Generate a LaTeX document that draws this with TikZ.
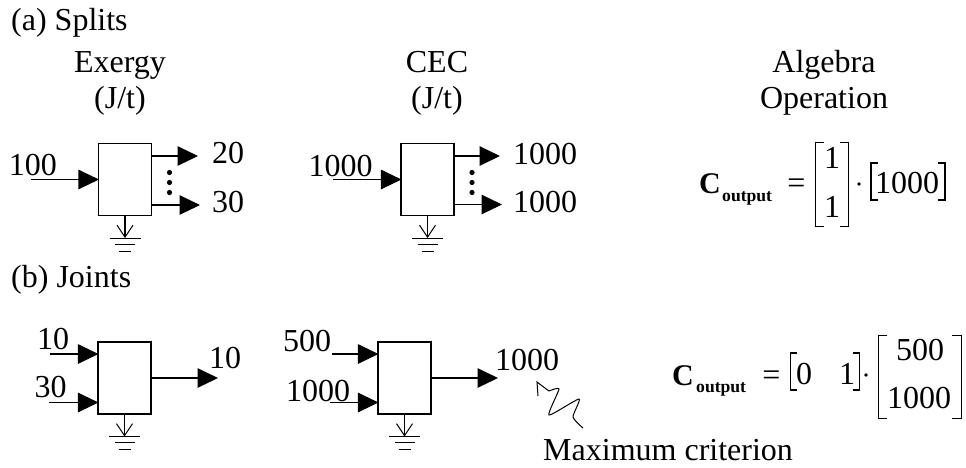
\documentclass[tikz,border=0pt]{standalone}
\usepackage{fontspec}
\setmainfont{Liberation Serif}
\usetikzlibrary{arrows.meta,positioning}

\begin{document}
\begin{tikzpicture}[
  x=1pt, y=-1pt,
  %% style definitions
  unit/.style   = {draw, line width=1.1pt, minimum width=53pt, minimum height=72pt,
                   inner sep=0pt},
  arr/.style    = {-{Triangle[length=20.5pt,width=19.5pt]}, line width=1.1pt, shorten >=-1pt},
  lbl/.style    = {font=\fontsize{32}{32}\selectfont, inner sep=0pt, anchor=base},
  lblw/.style   = {lbl, anchor=base west},
  bold/.style   = {font=\fontsize{30}{30}\selectfont\bfseries, inner sep=0pt, anchor=base west},
  sub/.style    = {font=\fontsize{17.6}{18}\selectfont\bfseries, inner sep=0pt, anchor=base west},
  brk/.style    = {line width=1pt},
  brkb/.style   = {line width=1.8pt},
  gnd/.pic      = {
    \draw[line width=1.1pt] (-15.5,0) -- (15.5,0);
    \draw[line width=1.1pt] (-10,6) -- (10,6);
    \draw[line width=1.1pt] (-6,13) -- (6,13);
  },
]
\useasboundingbox (0,0) rectangle (966,467);

%% ── Part (a) headings ──
\node[lblw] (parta) at (11,30) {(a) Splits};
\node[lbl] (hexergy) at (120,72)  {Exergy};
\node[lbl] (hjt1)    at (120,108) {(J/t)};
\node[lbl] (hcec)    at (437,72)  {CEC};
\node[lbl] (hjt2)    at (437,108) {(J/t)};
\node[lbl] (halg)    at (824,72)  {Algebra};
\node[lbl] (hop)     at (824,108) {Operation};

%% ── Split units ──
\node[unit] (ua) at (125,179.5) {};
\node[unit] (ub) at (427.5,179.5) {};

\coordinate (uain)  at (31,179.5);
\coordinate (uaout) at (197,156);
\coordinate (uaoutb) at (199,205);
\coordinate (ubin)  at (333,179.5);
\coordinate (ubout) at (499,156);
\coordinate (uboutb) at (501,204.5);

\draw[arr] (uain) -- (ua.west);
\draw[arr] (ua.east |- uaout) -- (uaout);
\draw[arr] (ua.east |- uaoutb) -- (uaoutb);
\draw[arr] (ubin) -- (ub.west);
\draw[arr] (ub.east |- ubout) -- (ubout);
\draw[arr] (ub.east |- uboutb) -- (uboutb);

\node[lbl] at (33,175)   (va1) {100};
\node[lblw] at (212,163) (va2) {20};
\node[lblw] at (212,212) (va3) {30};
\node[lbl] at (340.5,176) (vb1) {1000};
\node[lblw] at (513,164) (vb2) {1000};
\node[lblw] at (513,212) (vb3) {1000};

\foreach \px in {169.5,472} {
  \foreach \py in {172.5,182.5,192.5} {
    \fill (\px,\py) circle (2.6pt);
  }
}

%% ── Part (b) ──
\node[lblw] (partb) at (11,287) {(b) Joints};

\node[unit] (uc) at (124.5,378) {};
\node[unit] (ud) at (404.5,378) {};

\coordinate (ucin)  at (50,354);
\coordinate (ucinb) at (49,402.5);
\coordinate (ucout) at (217,378);
\coordinate (udin)  at (332,354);
\coordinate (udinb) at (330,402.5);
\coordinate (udout) at (497,378);

\draw[arr] (ucin) -- (uc.west |- ucin);
\draw[arr] (ucinb) -- (uc.west |- ucinb);
\draw[arr] (uc.east) -- (ucout);
\draw[arr] (udin) -- (ud.west |- udin);
\draw[arr] (udinb) -- (ud.west |- udinb);
\draw[arr] (ud.east) -- (udout);

\node[lbl] at (53,349)   (vc1) {10};
\node[lbl] at (50.5,397) (vc2) {30};
\node[lblw] at (209,368) (vc3) {10};
\node[lbl] at (307,351)  (vd1) {500};
\node[lbl] at (318,401)  (vd2) {1000};
\node[lblw] at (495,370) (vd3) {1000};

%% ── Grounds ──
\foreach \uname in {ua,ub,uc,ud} {
  \coordinate (\uname gnd) at ([yshift=-22pt]\uname.south);
  \draw[line width=1.1pt, -{Straight Barb[length=12pt,width=16pt,line width=1pt]}]
    (\uname.south) -- (\uname gnd);
  \path (\uname gnd) pic {gnd};
}

%% ── Maximum criterion ──
\coordinate (wavestart) at (583,428);
\coordinate (wavetip)   at (537,382);
\draw[line width=1pt] plot[smooth, tension=0.35] coordinates
  {(wavestart) (573,417) (579,399) (549,415) (559,389) (549,391)};
\draw[line width=1pt] (549,391) -- (wavetip) -- (538,396);
\node[lblw] (maxcrit) at (543,460) {Maximum criterion};

%% ── Algebra (a) ──
\node[bold] (ca) at (699,193) {C};
\node[sub]  (oa) at (722,201.5) {output};
\node[lbl]  (eqa) at (796.5,193) {=};
\draw[brk] (824,142) -| (815,226) -- (824,226);
\draw[brk] (840,142) -| (848,226) -- (840,226);
\node[lbl] (ma1) at (832,168) {1};
\node[lbl] (ma2) at (832,217) {1};
\fill (859,184) circle (1.8pt);
\draw[brkb] (878,163) -| (871,200) -- (878,200);
\draw[brkb] (938,163) -| (945,200) -- (938,200);
\node[lbl] (ma3) at (907,193) {1000};

%% ── Algebra (b) ──
\node[bold] (cb) at (672,385) {C};
\node[sub]  (ob) at (696,392) {output};
\node[lbl]  (eqb) at (771.5,385) {=};
\draw[brkb] (797,353) -| (790.5,390) -- (797,390);
\draw[brkb] (853,353) -| (859.5,390) -- (853,390);
\node[lbl] (mb1) at (804,384) {0};
\node[lbl] (mb2) at (847,384) {1};
\fill (866,375) circle (1.8pt);
\draw[brk] (887,335) -| (878,418) -- (887,418);
\draw[brk] (952,335) -| (961,418) -- (952,418);
\node[lbl] (mb3) at (920,360) {500};
\node[lbl] (mb4) at (919,408) {1000};

\end{tikzpicture}
\end{document}
